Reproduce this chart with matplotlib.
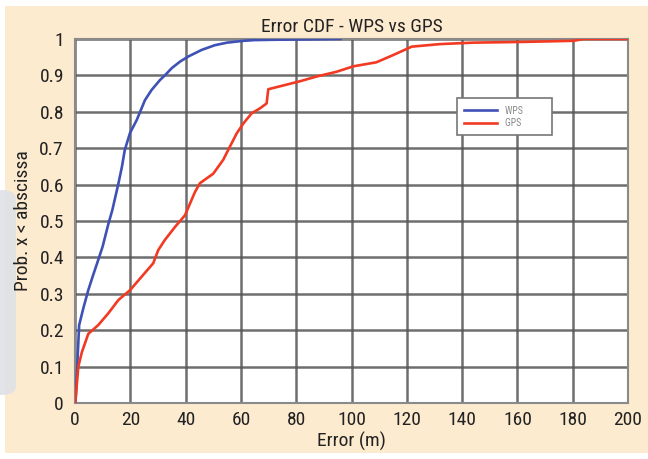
import matplotlib
matplotlib.use("Agg")
import matplotlib.pyplot as plt
from matplotlib import font_manager as fm
from matplotlib.patches import Rectangle, FancyBboxPatch

# ---- data ----
wps_x = [0, 0.3, 1.5, 3, 4.8, 6.5, 8.4, 10, 12, 13.5, 15.7, 17, 18, 19.9, 22.3,
         25.3, 27.7, 30.7, 32.5, 35, 38, 41, 45.8, 50.6, 55, 60.9, 65, 72.9, 85, 96]
wps_y = [0, 0.02, 0.214, 0.26, 0.31, 0.35, 0.393, 0.43, 0.49, 0.53, 0.603, 0.65,
         0.695, 0.742, 0.777, 0.832, 0.86, 0.887, 0.90, 0.92, 0.938, 0.952, 0.97,
         0.983, 0.99, 0.995, 0.997, 0.998, 0.999, 1.0]

gps_x = [0, 0.3, 1.2, 2.5, 4.8, 8.4, 12, 15.7, 19.9, 24.1, 28.3, 30.1, 32.5, 36.2,
         39.8, 43.4, 45.2, 50, 53.6, 56, 58.5, 60.9, 63.9, 67, 69.3, 69.9, 74.1,
         81.4, 87.4, 94.6, 100.7, 109, 115.1, 121.8, 132, 144, 162, 180.2, 184, 199.5]
gps_y = [0, 0.017, 0.1, 0.14, 0.19, 0.214, 0.246, 0.283, 0.31, 0.347, 0.384, 0.42,
         0.448, 0.484, 0.516, 0.58, 0.604, 0.63, 0.668, 0.704, 0.741, 0.768, 0.796,
         0.81, 0.823, 0.862, 0.87, 0.884, 0.897, 0.91, 0.925, 0.936, 0.956, 0.979,
         0.986, 0.99, 0.992, 0.995, 1.0, 1.0]

x_ticks = [0, 20, 40, 60, 80, 100, 120, 140, 160, 180, 200]
y_ticks = [0, 0.1, 0.2, 0.3, 0.4, 0.5, 0.6, 0.7, 0.8, 0.9, 1.0]
y_tick_labels = ["0", "0.1", "0.2", "0.3", "0.4", "0.5", "0.6", "0.7", "0.8", "0.9", "1"]
series_labels = ["WPS", "GPS"]

# ---- font choice ----
names = {f.name for f in fm.fontManager.ttflist}
fam = "DejaVu Sans"
for cand in ["Liberation Sans Narrow", "DejaVu Sans Condensed", "Roboto Condensed",
             "Open Sans Condensed", "Noto Sans Condensed"]:
    if cand in names:
        fam = cand
        break
plt.rcParams["font.family"] = [fam, "DejaVu Sans"]
plt.rcParams["font.stretch"] = "condensed"

W, H = 648, 459
fig = plt.figure(figsize=(W / 100, H / 100), dpi=100, facecolor="white")

# background panel (beige) and left grey artifact
fig.patches.append(Rectangle((5 / W, 1 - 453 / H), (W - 5) / W, (453 - 6) / H,
                             transform=fig.transFigure, facecolor="#fdebd0",
                             edgecolor="none", zorder=-10))
fig.patches.append(FancyBboxPatch((-10 / W, 1 - 395 / H), 26 / W, 205 / H,
                                  boxstyle="round,pad=0,rounding_size=0.02",
                                  transform=fig.transFigure, facecolor="#e0e2e8",
                                  edgecolor="none", zorder=-5, alpha=0.9))

ax = fig.add_axes([75 / W, 1 - 403 / H, (628 - 75) / W, (403 - 39) / H])
ax.set_zorder(1)
ax.set_facecolor("white")

ax.plot(wps_x, wps_y, color="#3f51b5", lw=1.9, label=series_labels[0], zorder=3)
ax.plot(gps_x, gps_y, color="#f23a22", lw=1.9, label=series_labels[1], zorder=3)

ax.set_xlim(0, 200)
ax.set_ylim(0, 1)
ax.set_xticks(x_ticks)
ax.set_yticks(y_ticks)
ax.set_yticklabels(y_tick_labels)
ax.tick_params(length=0, labelsize=14, colors="#222222")
ax.tick_params(axis="x", pad=6)
ax.tick_params(axis="y", pad=8)
ax.grid(True, color="#555555", lw=1.8, alpha=0.85)
ax.set_axisbelow(True)
for s in ax.spines.values():
    s.set_color("#8a8a8a")
    s.set_linewidth(1.5)

ax.set_title("Error CDF - WPS vs GPS", fontsize=14, pad=5, color="#222222")
ax.set_xlabel("Error (m)", fontsize=14, labelpad=2, color="#222222")
ax.set_ylabel("Prob. x < abscissa", fontsize=14, labelpad=5, color="#222222")

leg = ax.legend(loc="upper left", bbox_to_anchor=(0.69, 0.837), fontsize=7,
                frameon=True, fancybox=False, edgecolor="#777777",
                facecolor="white", framealpha=1, handlelength=3.4,
                borderpad=0.75, labelspacing=0.25, handletextpad=0.8,
                borderaxespad=0)
for t in leg.get_texts():
    t.set_color("#888888")
    t.set_text(t.get_text() + "          ")
leg.get_frame().set_linewidth(1.2)

fig.savefig("out.png", dpi=100, facecolor="white")
